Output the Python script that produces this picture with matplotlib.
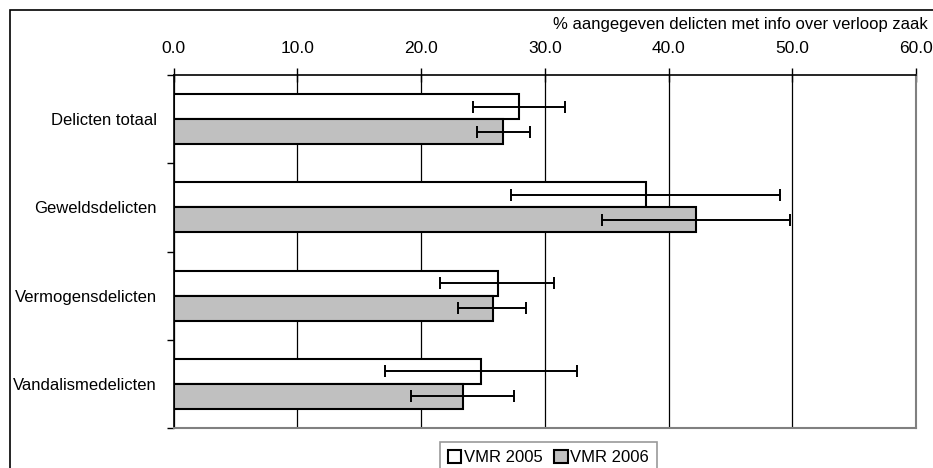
import matplotlib
matplotlib.use("Agg")
import matplotlib.pyplot as plt
from matplotlib.patches import Rectangle
import numpy as np

categories = ["Delicten totaal", "Geweldsdelicten", "Vermogensdelicten", "Vandalismedelicten"]
series_names = ["VMR 2005", "VMR 2006"]
vmr2005 = [27.9, 38.2, 26.2, 24.8]
vmr2005_low = [24.2, 27.3, 21.5, 17.1]
vmr2005_high = [31.6, 49.0, 30.7, 32.6]
vmr2006 = [26.6, 42.2, 25.8, 23.4]
vmr2006_low = [24.5, 34.6, 23.0, 19.2]
vmr2006_high = [28.8, 49.8, 28.5, 27.5]
xticks = [0, 10, 20, 30, 40, 50, 60]
xlabel = "% aangegeven delicten met info over verloop zaak"

plt.rcParams['font.family'] = ['Liberation Sans', 'DejaVu Sans']

W, H = 933, 468
fig = plt.figure(figsize=(W / 100, H / 100), dpi=100)
ax = fig.add_axes([173.7 / W, 1 - 428 / H, (916 - 173.7) / W, (428 - 75) / H])

n = len(categories)
centers = np.arange(n) + 0.5
bh = 0.2825
y05 = centers - bh / 2
y06 = centers + bh / 2

v05 = np.array(vmr2005)
v06 = np.array(vmr2006)
err05 = [v05 - np.array(vmr2005_low), np.array(vmr2005_high) - v05]
err06 = [v06 - np.array(vmr2006_low), np.array(vmr2006_high) - v06]

ax.barh(y05, v05, height=bh, color="white", edgecolor="black", linewidth=1.5,
        label=series_names[0], zorder=3)
ax.barh(y06, v06, height=bh, color="#C0C0C0", edgecolor="black", linewidth=1.5,
        label=series_names[1], zorder=3)
ax.errorbar(v05, y05, xerr=err05, fmt="none", ecolor="black", elinewidth=1.4,
            capsize=4, capthick=1.4, zorder=4)
ax.errorbar(v06, y06, xerr=err06, fmt="none", ecolor="black", elinewidth=1.4,
            capsize=4, capthick=1.4, zorder=4)

ax.set_xlim(0, 60)
ax.set_ylim(n, 0)
ax.set_xticks(xticks)
ax.set_xticklabels([f"{t:.1f}" for t in xticks])
ax.xaxis.tick_top()
ax.tick_params(axis="x", which="major", direction="inout", length=10, width=1,
               pad=9, labelsize=12.5, colors="black")
ax.set_yticks(centers)
ax.set_yticklabels(categories)
ax.set_yticks(np.arange(n + 1), minor=True)
ax.tick_params(axis="y", which="major", length=0, pad=12, labelsize=12)
ax.tick_params(axis="y", which="minor", direction="out", length=5, width=1)

ax.grid(axis="x", color="black", linewidth=0.9, zorder=0)
ax.set_axisbelow(True)

ax.spines["top"].set_color("black")
ax.spines["left"].set_color("black")
ax.spines["top"].set_linewidth(1.2)
ax.spines["left"].set_linewidth(1.2)
ax.spines["right"].set_color("#808080")
ax.spines["bottom"].set_color("#808080")
ax.spines["right"].set_linewidth(1.5)
ax.spines["bottom"].set_linewidth(1.5)

fig.text(928 / W, 1 - 25 / H, xlabel, ha="right", va="center", fontsize=12)

leg = fig.legend(loc="upper center", bbox_to_anchor=(548.5 / W, 1 - 442 / H),
                 ncol=2, fontsize=12, frameon=True, fancybox=False,
                 handlelength=0.8, handleheight=0.8, handletextpad=0.15,
                 columnspacing=0.7, borderpad=0.5, borderaxespad=0)
leg.get_frame().set_edgecolor("#808080")
leg.get_frame().set_linewidth(1.2)
for h in leg.legend_handles:
    h.set_linewidth(1.5)

fig.patches.append(Rectangle((9.5 / W, -0.1), 2, 1 - 10 / H + 0.1,
                             transform=fig.transFigure, fill=False,
                             edgecolor="black", linewidth=1.2))

fig.savefig("out.png", dpi=100)
